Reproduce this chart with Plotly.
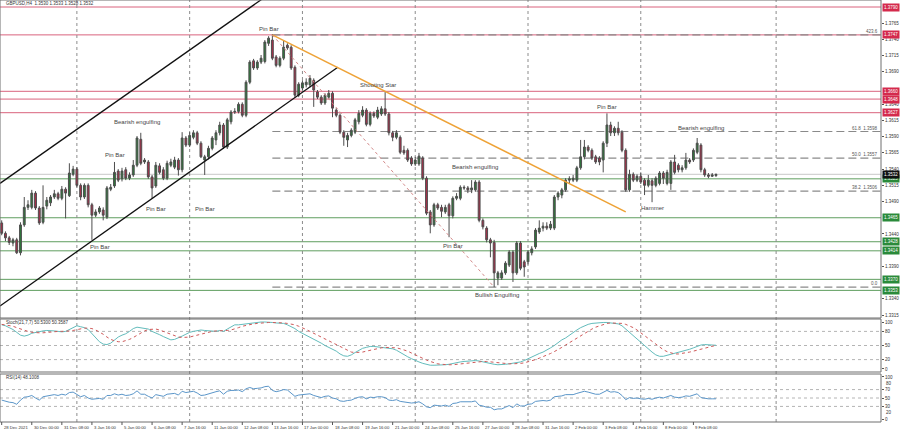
import plotly.graph_objects as go

# ---------------- DATA ----------------
bars = list(range(191))
opens = [1.3457,1.3441,1.3434,1.3426,1.3431,1.3411,1.3454,1.3481,1.3481,1.3503,
1.3480,1.3458,1.3483,1.3488,1.3497,1.3502,1.3495,1.3509,1.3499,1.3532,
1.3540,1.3515,1.3497,1.3515,1.3485,1.3469,1.3474,1.3477,1.3466,1.3509,
1.3514,1.3537,1.3525,1.3539,1.3526,1.3531,1.3546,1.3586,1.3551,1.3551,
1.3528,1.3514,1.3545,1.3539,1.3526,1.3546,1.3543,1.3554,1.3539,1.3588,
1.3577,1.3589,1.3596,1.3580,1.3554,1.3559,1.3572,1.3585,1.3596,1.3608,
1.3574,1.3613,1.3628,1.3629,1.3640,1.3623,1.3674,1.3707,1.3696,1.3705,
1.3706,1.3734,1.3739,1.3713,1.3700,1.3711,1.3731,1.3728,1.3697,1.3654,
1.3665,1.3670,1.3670,1.3677,1.3659,1.3651,1.3642,1.3651,1.3657,1.3631,
1.3623,1.3597,1.3585,1.3592,1.3597,1.3613,1.3623,1.3631,1.3609,1.3626,
1.3620,1.3625,1.3633,1.3625,1.3596,1.3589,1.3589,1.3569,1.3569,1.3557,
1.3548,1.3548,1.3557,1.3526,1.3474,1.3454,1.3485,1.3481,1.3474,1.3485,
1.3468,1.3495,1.3495,1.3512,1.3511,1.3508,1.3508,1.3520,1.3461,1.3449,
1.3431,1.3427,1.3372,1.3372,1.3380,1.3392,1.3412,1.3380,1.3426,1.3397,
1.3397,1.3411,1.3420,1.3443,1.3449,1.3452,1.3449,1.3449,1.3497,1.3500,
1.3508,1.3523,1.3523,1.3523,1.3542,1.3559,1.3574,1.3569,1.3559,1.3557,
1.3554,1.3580,1.3608,1.3596,1.3603,1.3597,1.3569,1.3508,1.3532,1.3523,
1.3529,1.3523,1.3515,1.3522,1.3515,1.3518,1.3534,1.3518,1.3518,1.3551,
1.3546,1.3539,1.3542,1.3554,1.3554,1.3566,1.3577,1.3539,1.3531,1.3529,
1.3530]
highs = [1.3461,1.3444,1.3437,1.3434,1.3434,1.3458,1.3497,1.3492,1.3508,1.3506,
1.3483,1.3515,1.3497,1.3500,1.3508,1.3505,1.3514,1.3512,1.3549,1.3545,
1.3543,1.3518,1.3518,1.3518,1.3488,1.3478,1.3483,1.3481,1.3514,1.3517,
1.3551,1.3540,1.3542,1.3543,1.3535,1.3554,1.3591,1.3596,1.3557,1.3554,
1.3531,1.3551,1.3549,1.3543,1.3553,1.3556,1.3559,1.3557,1.3597,1.3591,
1.3597,1.3600,1.3599,1.3583,1.3562,1.3576,1.3591,1.3600,1.3613,1.3611,
1.3619,1.3631,1.3634,1.3643,1.3643,1.3677,1.3708,1.3710,1.3708,1.3716,
1.3739,1.3745,1.3748,1.3716,1.3714,1.3739,1.3734,1.3731,1.3700,1.3674,
1.3677,1.3680,1.3685,1.3680,1.3662,1.3654,1.3657,1.3662,1.3660,1.3634,
1.3626,1.3600,1.3596,1.3603,1.3619,1.3631,1.3637,1.3634,1.3629,1.3629,
1.3636,1.3637,1.3659,1.3628,1.3599,1.3600,1.3592,1.3576,1.3572,1.3560,
1.3559,1.3565,1.3560,1.3529,1.3477,1.3488,1.3488,1.3485,1.3485,1.3488,
1.3498,1.3503,1.3515,1.3515,1.3514,1.3523,1.3523,1.3523,1.3464,1.3452,
1.3434,1.3431,1.3383,1.3384,1.3398,1.3415,1.3415,1.3429,1.3429,1.3400,
1.3415,1.3421,1.3449,1.3461,1.3458,1.3458,1.3460,1.3500,1.3506,1.3511,
1.3526,1.3529,1.3531,1.3545,1.3585,1.3585,1.3577,1.3572,1.3562,1.3560,
1.3583,1.3626,1.3613,1.3606,1.3613,1.3600,1.3572,1.3539,1.3535,1.3532,
1.3535,1.3526,1.3531,1.3526,1.3529,1.3537,1.3537,1.3539,1.3554,1.3562,
1.3549,1.3546,1.3565,1.3557,1.3572,1.3588,1.3580,1.3542,1.3534,1.3534,
1.3533]
lows = [1.3438,1.3429,1.3423,1.3421,1.3409,1.3407,1.3451,1.3477,1.3478,1.3477,
1.3454,1.3455,1.3478,1.3483,1.3494,1.3492,1.3492,1.3464,1.3497,1.3529,
1.3512,1.3492,1.3494,1.3481,1.3431,1.3466,1.3471,1.3461,1.3463,1.3506,
1.3511,1.3520,1.3521,1.3523,1.3523,1.3528,1.3543,1.3546,1.3548,1.3525,
1.3495,1.3511,1.3532,1.3523,1.3523,1.3543,1.3540,1.3530,1.3535,1.3574,
1.3574,1.3586,1.3577,1.3557,1.3531,1.3555,1.3569,1.3577,1.3592,1.3571,
1.3571,1.3609,1.3625,1.3626,1.3620,1.3620,1.3671,1.3693,1.3693,1.3702,
1.3703,1.3730,1.3708,1.3697,1.3697,1.3708,1.3724,1.3693,1.3651,1.3651,
1.3662,1.3666,1.3666,1.3636,1.3648,1.3639,1.3639,1.3648,1.3620,1.3620,
1.3594,1.3576,1.3574,1.3589,1.3594,1.3609,1.3620,1.3606,1.3606,1.3619,
1.3617,1.3622,1.3622,1.3592,1.3583,1.3586,1.3563,1.3562,1.3551,1.3545,
1.3545,1.3545,1.3523,1.3469,1.3441,1.3451,1.3477,1.3466,1.3471,1.3435,
1.3464,1.3492,1.3492,1.3508,1.3503,1.3503,1.3505,1.3458,1.3447,1.3427,
1.3404,1.3358,1.3361,1.3369,1.3377,1.3389,1.3366,1.3377,1.3384,1.3374,
1.3393,1.3407,1.3417,1.3440,1.3444,1.3446,1.3446,1.3446,1.3492,1.3495,
1.3505,1.3518,1.3520,1.3520,1.3539,1.3555,1.3566,1.3554,1.3548,1.3546,
1.3535,1.3574,1.3591,1.3591,1.3592,1.3566,1.3505,1.3505,1.3520,1.3520,
1.3517,1.3500,1.3512,1.3489,1.3512,1.3515,1.3517,1.3515,1.3508,1.3532,
1.3535,1.3535,1.3539,1.3548,1.3551,1.3563,1.3535,1.3528,1.3526,1.3528,
1.3528]
closes = [1.3441,1.3434,1.3427,1.3431,1.3411,1.3454,1.3481,1.3485,1.3503,1.3480,
1.3457,1.3481,1.3492,1.3497,1.3502,1.3495,1.3509,1.3503,1.3534,1.3540,
1.3515,1.3497,1.3515,1.3485,1.3469,1.3474,1.3480,1.3469,1.3511,1.3512,
1.3535,1.3523,1.3537,1.3526,1.3531,1.3546,1.3588,1.3549,1.3554,1.3528,
1.3511,1.3546,1.3535,1.3526,1.3549,1.3551,1.3554,1.3539,1.3588,1.3577,
1.3592,1.3596,1.3580,1.3559,1.3559,1.3572,1.3588,1.3596,1.3608,1.3574,
1.3616,1.3628,1.3629,1.3640,1.3623,1.3674,1.3705,1.3696,1.3705,1.3711,
1.3736,1.3742,1.3711,1.3700,1.3711,1.3728,1.3727,1.3696,1.3654,1.3671,
1.3673,1.3674,1.3680,1.3662,1.3651,1.3642,1.3654,1.3657,1.3634,1.3623,
1.3597,1.3589,1.3592,1.3600,1.3616,1.3626,1.3631,1.3609,1.3626,1.3622,
1.3631,1.3633,1.3625,1.3596,1.3589,1.3596,1.3566,1.3565,1.3554,1.3548,
1.3554,1.3560,1.3526,1.3472,1.3454,1.3485,1.3480,1.3475,1.3481,1.3468,
1.3495,1.3498,1.3512,1.3511,1.3508,1.3511,1.3520,1.3461,1.3451,1.3431,
1.3426,1.3380,1.3380,1.3380,1.3395,1.3412,1.3380,1.3426,1.3387,1.3389,
1.3412,1.3417,1.3446,1.3449,1.3452,1.3449,1.3455,1.3497,1.3503,1.3508,
1.3523,1.3525,1.3526,1.3542,1.3559,1.3574,1.3569,1.3557,1.3551,1.3551,
1.3580,1.3608,1.3596,1.3603,1.3596,1.3569,1.3508,1.3532,1.3523,1.3529,
1.3520,1.3515,1.3523,1.3515,1.3526,1.3534,1.3526,1.3535,1.3551,1.3535,
1.3539,1.3542,1.3554,1.3551,1.3569,1.3580,1.3539,1.3531,1.3529,1.3531,
1.3532]

stoch_main = [94,92,88,84,78,72,70,72,76,78,79,
81,82,82,81,80,79,80,84,88,92,
90,88,84,76,66,58,53,52,55,62,
68,72,75,80,86,89,88,86,85,80,
77,73,69,65,62,63,66,70,74,78,
80,82,83,82,81,80,80,82,80,85,
90,94,94,95,97,97,98,99,100,100,
100,99,98,98,97,94,90,86,80,76,
72,68,64,60,55,50,46,42,38,32,
28,27,30,35,40,44,46,48,48,47,
46,46,45,43,40,35,30,26,22,18,
15,12,10,8,8,8,8,9,10,12,
14,15,16,17,18,18,17,15,13,12,
10,9,9,10,11,12,13,15,18,22,
26,30,33,36,40,45,50,56,62,66,
72,78,83,88,92,95,97,98,99,99,
99,98,97,96,92,85,78,70,62,55,
48,42,36,30,27,27,29,32,34,36,
38,40,42,45,48,51,52,52,51,50.53]
stoch_signal = [95,94,93,91,88,85,82,80,78,77,77,
77,78,79,80,80,80,80,81,82,84,
86,87,87,86,83,79,74,68,63,60,
58,58,60,63,67,72,77,81,84,85,
85,83,80,77,73,70,68,67,67,68,
70,72,75,77,79,80,81,81,81,82,
83,85,88,91,93,95,96,97,98,99,
99,99,99,99,98,97,96,94,91,88,
84,80,76,72,68,64,60,56,51,47,
43,39,36,35,35,36,38,40,42,44,
45,46,46,46,45,43,41,38,34,30,
26,22,19,16,13,11,10,9,9,9,
10,11,12,13,14,15,16,16,16,15,
14,13,12,11,11,11,11,12,13,15,
17,20,23,26,30,33,37,41,46,51,
56,61,66,71,76,81,85,89,92,95,
97,98,98,98,97,95,92,88,83,77,
71,65,58,52,46,41,37,34,32,32,
33,34,36,38,40,42,45,47,49,50.36]
rsi_values = [45,42,40,39,35,45,52,53,56,50,45,
53,55,57,58,56,59,57,63,64,58,
53,56,50,47,48,49,47,56,56,60,
57,59,56,57,60,67,59,59,54,50,
58,56,54,59,60,61,57,66,63,65,
66,62,56,57,60,63,65,67,59,66,
68,68,69,65,72,75,72,73,74,77,
78,68,65,67,70,69,62,54,57,58,
58,60,56,54,51,54,55,50,48,43,
42,44,45,49,52,53,48,52,51,53,
53,51,45,44,46,42,41,39,38,39,
41,36,29,27,33,32,31,33,30,37,
38,41,41,40,41,43,33,31,28,28,
22,24,24,28,32,27,36,31,31,35,
36,42,43,44,43,45,53,54,55,58,
58,58,61,64,66,64,61,59,59,64,
68,64,65,63,56,46,51,49,50,48,
47,49,47,50,52,50,53,56,52,51,
52,55,54,57,60,51,49,48,48,48.10]

time_tick_bars = [0,8,16,24,32,40,48,56,64,72,80,88,96,104,112,120,128,136,144,152,160,168,176,184]
time_tick_labels = ["28 Dec 2021","30 Dec 00:00","31 Dec 08:00","3 Jan 16:00","5 Jan 00:00","6 Jan 08:00",
    "7 Jan 16:00","11 Jan 00:00","12 Jan 08:00","13 Jan 16:00","17 Jan 00:00","18 Jan 08:00",
    "19 Jan 16:00","21 Jan 00:00","24 Jan 08:00","25 Jan 16:00","27 Jan 00:00","28 Jan 08:00",
    "31 Jan 16:00","2 Feb 00:00","3 Feb 08:00","4 Feb 16:00","8 Feb 00:00","9 Feb 08:00"]
grid_bars = [20, 50, 80, 110, 140, 170, 206]

price_ticks = [1.3315,1.3340,1.3390,1.3440,1.3490,1.3515,1.3540,
               1.3565,1.3590,1.3615,1.3640,1.3690,1.3715,1.3740,1.3765]
stoch_ticks = [0, 20, 50, 80, 100]
rsi_ticks = [0, 30, 50, 70, 100]
rsi_extra_ticks = [20, 80]
stoch_levels = [20, 50, 80]
rsi_levels = [30, 50, 70]

red_levels = [1.3790, 1.3747, 1.3660, 1.3648, 1.3627]
green_levels = [1.3525, 1.3465, 1.3428, 1.3414, 1.3370, 1.3353]
current_price = 1.3532

fib_start_bar = 72
fib_levels = [1.3747, 1.3598, 1.3557, 1.3506, 1.3358]
fib_labels = ["423.6", "61.8  1.3598", "50.0  1.3557", "38.2  1.3506", "0.0"]

channel_upper_bars = [-0.45, 80]
channel_upper_prices = [1.3518, 1.3846]
channel_lower_bars = [-0.45, 89.4]
channel_lower_prices = [1.3329, 1.3697]
orange_bars = [72, 166]
orange_prices = [1.3747, 1.3474]
fib_diag_bars = [72, 131]
fib_diag_prices = [1.3747, 1.3358]

pattern_labels = ["Pin Bar", "Bearish engulfing", "Pin Bar", "Pin Bar", "Pin Bar", "Pin Bar",
                  "Shooting Star", "Bearish engulfing", "Pin Bar", "Bullish Engulfing",
                  "Pin Bar", "Bearish engulfing", "Hammer"]
pattern_bars = [26.1, 36, 30.1, 41, 54, 71, 100, 126, 120, 131.7, 161, 186, 173]
pattern_prices = [1.3420, 1.3612, 1.3562, 1.3479, 1.3479, 1.3756, 1.3670, 1.3543, 1.3421, 1.3346, 1.3636, 1.3604, 1.3480]

# ---------------- FIGURE ----------------
W, H = 900, 433
FONT = "Liberation Sans"
dom_main = [1 - 318 / H, 1]
dom_stoch = [1 - 372 / H, 1 - 319 / H]
dom_rsi = [1 - 422 / H, 1 - 374 / H]
SMALL = 4.5

fig = go.Figure()
fig.add_trace(go.Candlestick(
    x=bars, open=opens, high=highs, low=lows, close=closes,
    increasing=dict(line=dict(color="#4d4d4d", width=1), fillcolor="#2d7a3a"),
    decreasing=dict(line=dict(color="#4d4d4d", width=1), fillcolor="#b02c4a"),
    whiskerwidth=0, xaxis="x", yaxis="y", showlegend=False, hoverinfo="skip"))

fig.add_trace(go.Scatter(x=channel_upper_bars, y=channel_upper_prices, mode="lines",
                         line=dict(color="#111111", width=1.3), xaxis="x", yaxis="y", showlegend=False, hoverinfo="skip"))
fig.add_trace(go.Scatter(x=channel_lower_bars, y=channel_lower_prices, mode="lines",
                         line=dict(color="#111111", width=1.3), xaxis="x", yaxis="y", showlegend=False, hoverinfo="skip"))
fig.add_trace(go.Scatter(x=orange_bars, y=orange_prices, mode="lines",
                         line=dict(color="#eea236", width=1.5), xaxis="x", yaxis="y", showlegend=False, hoverinfo="skip"))
fig.add_trace(go.Scatter(x=fib_diag_bars, y=fib_diag_prices, mode="lines",
                         line=dict(color="#d38a8a", width=1, dash="dot"), xaxis="x", yaxis="y", showlegend=False, hoverinfo="skip"))

fig.add_trace(go.Scatter(x=bars, y=stoch_main, mode="lines", line=dict(color="#63bcbc", width=1),
                         xaxis="x", yaxis="y2", showlegend=False, hoverinfo="skip"))
fig.add_trace(go.Scatter(x=bars, y=stoch_signal, mode="lines", line=dict(color="#cf5a5a", width=1, dash="dot"),
                         xaxis="x", yaxis="y2", showlegend=False, hoverinfo="skip"))
fig.add_trace(go.Scatter(x=bars, y=rsi_values, mode="lines", line=dict(color="#5b96c9", width=1),
                         xaxis="x", yaxis="y3", showlegend=False, hoverinfo="skip"))

shapes = []
annotations = []

for lv in red_levels:
    shapes.append(dict(type="line", xref="paper", yref="y", x0=0, x1=1, y0=lv, y1=lv,
                       line=dict(color="#d9637d", width=1), layer="below"))
for lv in green_levels:
    shapes.append(dict(type="line", xref="paper", yref="y", x0=0, x1=1, y0=lv, y1=lv,
                       line=dict(color="#5f9e5f", width=1), layer="below"))
shapes.append(dict(type="line", xref="paper", yref="y", x0=0, x1=1, y0=current_price, y1=current_price,
                   line=dict(color="#c8c8c8", width=1), layer="below"))

for lv, lab in zip(fib_levels, fib_labels):
    shapes.append(dict(type="line", xref="x", yref="y", x0=fib_start_bar, x1=233.9, y0=lv, y1=lv,
                       line=dict(color="#8a8a8a", width=1.2, dash="8px,4px"), layer="below"))
    annotations.append(dict(xref="paper", yref="y", x=0.999, y=lv, text=lab, showarrow=False,
                            xanchor="right", yanchor="bottom", yshift=-1,
                            font=dict(family=FONT, size=SMALL, color="#555555")))

for gb in grid_bars:
    shapes.append(dict(type="line", xref="x", yref="paper", x0=gb, x1=gb, y0=dom_rsi[0], y1=1,
                       line=dict(color="#8c8c8c", width=1, dash="dot"), layer="below"))

for lv in stoch_levels:
    shapes.append(dict(type="line", xref="paper", yref="y2", x0=0, x1=1, y0=lv, y1=lv,
                       line=dict(color="#b4b4b4", width=1, dash="dot"), layer="below"))
for lv in rsi_levels:
    shapes.append(dict(type="line", xref="paper", yref="y3", x0=0, x1=1, y0=lv, y1=lv,
                       line=dict(color="#b4b4b4", width=1, dash="dot"), layer="below"))

for d in (dom_main, dom_stoch, dom_rsi):
    shapes.append(dict(type="rect", xref="paper", yref="paper", x0=0, x1=1, y0=d[0], y1=d[1],
                       line=dict(color="#6e6e6e", width=1), fillcolor="rgba(0,0,0,0)"))

for tb, tl in zip(time_tick_bars, time_tick_labels):
    shapes.append(dict(type="line", xref="x", yref="paper", x0=tb, x1=tb, y0=dom_rsi[0] - 3 / H, y1=dom_rsi[0],
                       line=dict(color="#555555", width=1)))
    annotations.append(dict(xref="x", yref="paper", x=tb, y=1 - 427 / H, text=tl, showarrow=False,
                            xanchor="left", yanchor="middle", xshift=0,
                            font=dict(family=FONT, size=4.2, color="#333333")))

# extra RSI scale labels, nudged apart like the terminal does
for v, sh in zip(rsi_extra_ticks, [-2, 2]):
    annotations.append(dict(xref="paper", yref="y3", x=1, y=v, text=str(v), showarrow=False,
                            xanchor="left", yanchor="middle", xshift=3, yshift=sh,
                            font=dict(family=FONT, size=SMALL, color="#333333")))

for lv in red_levels:
    annotations.append(dict(xref="paper", yref="y", x=1, y=lv, text=f"{lv:.4f}", showarrow=False,
                            xanchor="left", yanchor="middle", xshift=1, bgcolor="#d42a4c", borderpad=1,
                            font=dict(family=FONT, size=SMALL, color="#ffffff")))
for lv in green_levels:
    annotations.append(dict(xref="paper", yref="y", x=1, y=lv, text=f"{lv:.4f}", showarrow=False,
                            xanchor="left", yanchor="middle", xshift=1, bgcolor="#2a8a3a", borderpad=1,
                            font=dict(family=FONT, size=SMALL, color="#ffffff")))
annotations.append(dict(xref="paper", yref="y", x=1, y=current_price, text=f"{current_price:.4f}", showarrow=False,
                        xanchor="left", yanchor="middle", xshift=1, bgcolor="#111111", borderpad=1,
                        font=dict(family=FONT, size=SMALL, color="#ffffff")))

for lab, b, p in zip(pattern_labels, pattern_bars, pattern_prices):
    annotations.append(dict(xref="x", yref="y", x=b, y=p, text=lab, showarrow=False,
                            xanchor="center", yanchor="middle",
                            font=dict(family=FONT, size=6, color="#444444")))

annotations.append(dict(xref="paper", yref="paper", x=0.004, y=1 - 4 / H, text="GBPUSD,H4  1.3530 1.3533 1.3528 1.3532",
                        showarrow=False, xanchor="left", yanchor="middle",
                        font=dict(family=FONT, size=SMALL, color="#333333")))
annotations.append(dict(xref="paper", yref="paper", x=0.004, y=dom_stoch[1] - 3.5 / H,
                        text="Stoch(21,7,7) 50.5300 50.3587", showarrow=False, xanchor="left", yanchor="middle",
                        font=dict(family=FONT, size=SMALL, color="#333333")))
annotations.append(dict(xref="paper", yref="paper", x=0.004, y=dom_rsi[1] - 3.5 / H,
                        text="RSI(14) 48.1008", showarrow=False, xanchor="left", yanchor="middle",
                        font=dict(family=FONT, size=SMALL, color="#333333")))

axis_font = dict(family=FONT, size=SMALL, color="#333333")
fig.update_layout(
    width=W, height=H, margin=dict(l=0, r=19, t=0, b=0),
    paper_bgcolor="#ffffff", plot_bgcolor="#ffffff",
    showlegend=False, hovermode=False,
    shapes=shapes, annotations=annotations,
    xaxis=dict(range=[-0.45, 233.9], showticklabels=False, showgrid=False, zeroline=False,
               anchor="y3", rangeslider=dict(visible=False), showline=False, ticks=""),
    yaxis=dict(domain=dom_main, range=[1.33104, 1.38008], side="right", anchor="x",
               tickvals=price_ticks, ticktext=[f"{v:.4f}" for v in price_ticks],
               tickfont=axis_font, ticks="outside", ticklen=2, tickcolor="#555555",
               showgrid=False, zeroline=False, showline=False),
    yaxis2=dict(domain=dom_stoch, range=[-6.4, 106.4], side="right", anchor="x",
                tickvals=stoch_ticks, tickfont=axis_font, ticks="outside", ticklen=2, tickcolor="#555555",
                showgrid=False, zeroline=False, showline=False),
    yaxis3=dict(domain=dom_rsi, range=[-7.1, 107.1], side="right", anchor="x",
                tickvals=rsi_ticks, tickfont=axis_font, ticks="outside", ticklen=2, tickcolor="#555555",
                showgrid=False, zeroline=False, showline=False),
)

fig.write_html("out.html", config={"displayModeBar": False},
               post_script="document.body.style.margin='0';document.body.style.padding='0';")
